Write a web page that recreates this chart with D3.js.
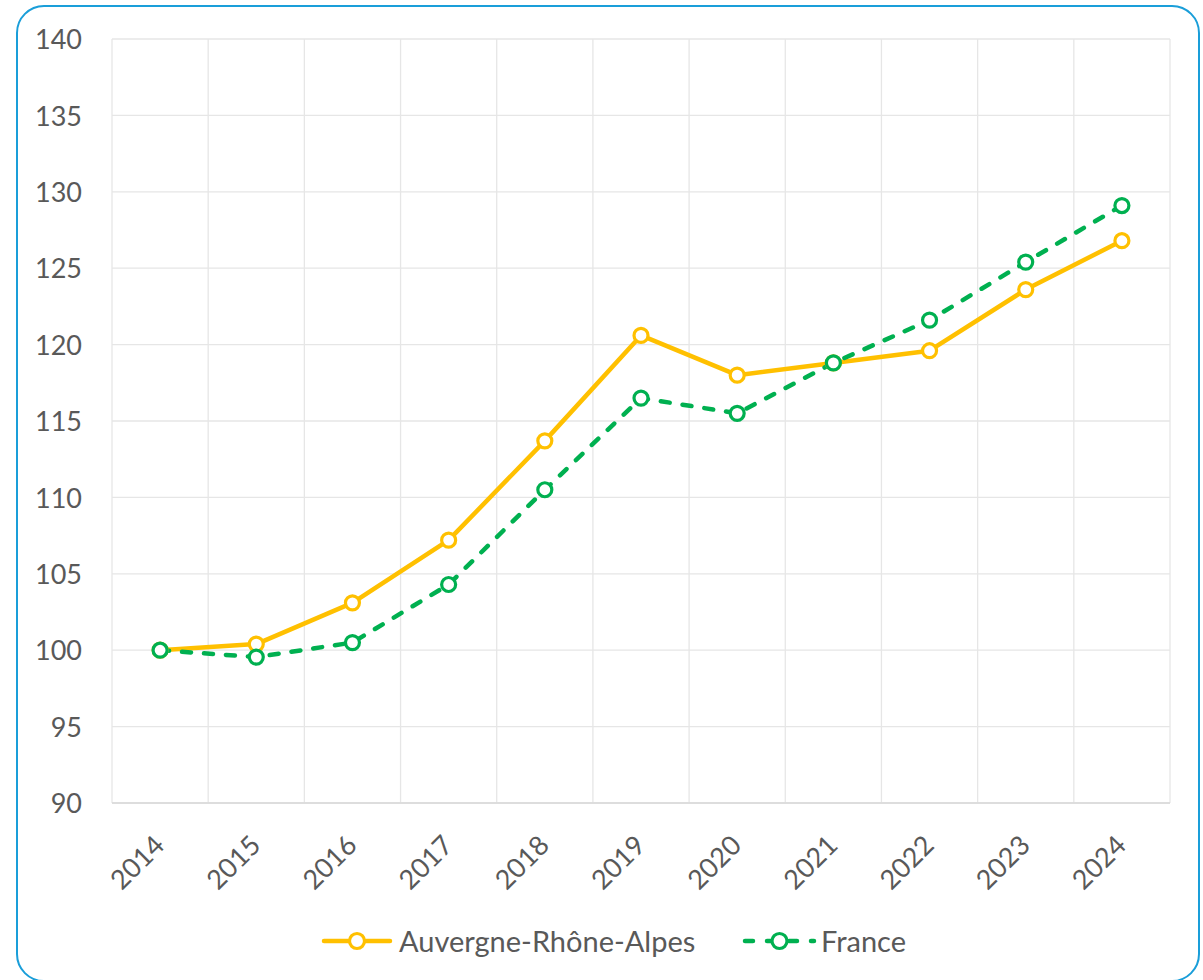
<!DOCTYPE html>
<html>
<head>
<meta charset="utf-8">
<script src="https://cdn.jsdelivr.net/npm/d3@7"></script>
<style>
  html, body { margin: 0; padding: 0; background: #ffffff; }
  svg { display: block; }
  text { font-family: Lato, "Open Sans", "Liberation Sans", sans-serif; fill: #595959; }
</style>
</head>
<body>
<svg id="chart" width="1203" height="980"></svg>
<script>
// Index values, base 100 in 2014
const years = ["2014", "2015", "2016", "2017", "2018", "2019", "2020", "2021", "2022", "2023", "2024"];
const auvergneRhoneAlpes = [100, 100.4, 103.1, 107.2, 113.7, 120.6, 118.0, 118.8, 119.6, 123.6, 126.8];
const france = [100, 99.55, 100.5, 104.3, 110.5, 116.5, 115.5, 118.8, 121.6, 125.4, 129.1];
const yTicks = [90, 95, 100, 105, 110, 115, 120, 125, 130, 135, 140];
const seriesNames = ["Auvergne-Rhône-Alpes", "France"];

const svg = d3.select("#chart");
const plot = { left: 112, right: 1170, top: 39, bottom: 803 };

// Rounded outer frame
svg.append("rect")
  .attr("x", 17).attr("y", 6)
  .attr("width", 1182).attr("height", 975)
  .attr("rx", 27).attr("ry", 27)
  .attr("fill", "#ffffff")
  .attr("stroke", "#1A9ED9")
  .attr("stroke-width", 2);

const x = d3.scaleBand().domain(years).range([plot.left, plot.right]).paddingInner(0).paddingOuter(0);
const y = d3.scaleLinear().domain([90, 140]).range([plot.bottom, plot.top]);

// Horizontal gridlines
svg.append("g")
  .selectAll("line")
  .data(yTicks)
  .join("line")
  .attr("x1", plot.left).attr("x2", plot.right)
  .attr("y1", d => y(d)).attr("y2", d => y(d))
  .attr("stroke", "#e6e6e6").attr("stroke-width", 1.3);

// Vertical gridlines at category boundaries
const bounds = years.map(d => x(d)).concat([x(years[years.length - 1]) + x.bandwidth()]);
svg.append("g")
  .selectAll("line")
  .data(bounds)
  .join("line")
  .attr("x1", d => d).attr("x2", d => d)
  .attr("y1", plot.top).attr("y2", plot.bottom)
  .attr("stroke", "#e6e6e6").attr("stroke-width", 1.3);

// Category axis line
svg.append("line")
  .attr("x1", plot.left).attr("x2", plot.right)
  .attr("y1", plot.bottom).attr("y2", plot.bottom)
  .attr("stroke", "#d9d9d9").attr("stroke-width", 1.5);

// Value axis labels
const yAxis = d3.axisLeft(y).tickValues(yTicks).tickSize(0).tickPadding(0);
const yg = svg.append("g").attr("transform", `translate(${82},0)`).call(yAxis);
yg.select(".domain").remove();
yg.selectAll("text")
  .attr("font-size", 27)
  .attr("font-family", "Lato, 'Open Sans', sans-serif")
  .attr("fill", "#595959")
  .attr("dy", "0.36em");

// Category axis labels, rotated
const xAxis = d3.axisBottom(x).tickSize(0).tickPadding(0);
const xg = svg.append("g").attr("transform", `translate(0,${plot.bottom})`).call(xAxis);
xg.select(".domain").remove();
xg.selectAll("text")
  .attr("font-size", 27)
  .attr("font-family", "Lato, 'Open Sans', sans-serif")
  .attr("fill", "#595959")
  .attr("text-anchor", "end")
  .attr("dy", 0)
  .attr("y", 0)
  .attr("transform", "translate(6,44) rotate(-45)");

const cx = d => x(d) + x.bandwidth() / 2;
const line = d3.line().x((d, i) => cx(years[i])).y(d => y(d));

const colors = ["#FFC000", "#00B050"];
const dashes = [null, "9,13"];
const allSeries = [auvergneRhoneAlpes, france];

allSeries.forEach((vals, s) => {
  svg.append("path")
    .datum(vals)
    .attr("d", line)
    .attr("fill", "none")
    .attr("stroke", colors[s])
    .attr("stroke-width", 4.5)
    .attr("stroke-linejoin", "round")
    .attr("stroke-linecap", "round")
    .attr("stroke-dasharray", dashes[s]);
});

allSeries.forEach((vals, s) => {
  svg.append("g")
    .selectAll("circle")
    .data(vals)
    .join("circle")
    .attr("cx", (d, i) => cx(years[i]))
    .attr("cy", d => y(d))
    .attr("r", 7)
    .attr("fill", "#ffffff")
    .attr("stroke", colors[s])
    .attr("stroke-width", 3.2);
});

// Legend
const legendY = 941;
const legendItems = [
  { x0: 324, x1: 390, text: 399 },
  { x0: 745, x1: 814, text: 821 }
];
legendItems.forEach((it, s) => {
  svg.append("line")
    .attr("x1", it.x0).attr("x2", it.x1)
    .attr("y1", legendY).attr("y2", legendY)
    .attr("stroke", colors[s]).attr("stroke-width", 4.5)
    .attr("stroke-linecap", "round")
    .attr("stroke-dasharray", dashes[s] ? "8,14" : null);
  svg.append("circle")
    .attr("cx", (it.x0 + it.x1) / 2).attr("cy", legendY)
    .attr("r", 7.5)
    .attr("fill", "#ffffff")
    .attr("stroke", colors[s]).attr("stroke-width", 3.2);
  svg.append("text")
    .attr("x", it.text).attr("y", 952)
    .attr("font-size", 29)
    .text(seriesNames[s]);
});
</script>
</body>
</html>
